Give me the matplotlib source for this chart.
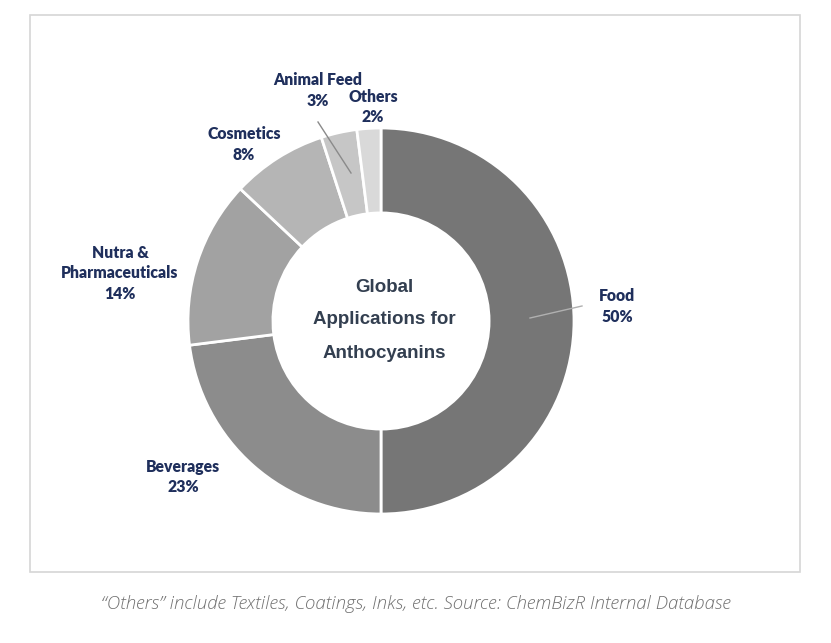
import matplotlib.pyplot as plt
from matplotlib.patches import Rectangle

# data
categories = ["Food", "Beverages", "Nutra &\nPharmaceuticals", "Cosmetics", "Animal Feed", "Others"]
shares = [50, 23, 14, 8, 3, 2]
colors = ["#767676", "#8c8c8c", "#a2a2a2", "#b5b5b5", "#c6c6c6", "#d9d9d9"]
caption = "\u201cOthers\u201d include Textiles, Coatings, Inks, etc. Source: ChemBizR Internal Database"
center_title = ["Global", "Applications for", "Anthocyanins"]

W, H = 831, 643
fig = plt.figure(figsize=(W / 100, H / 100), dpi=100)
fig.patch.set_facecolor("white")

# overlay axes in pixel coords for the frame, labels and caption
bg = fig.add_axes([0, 0, 1, 1])
bg.set_xlim(0, W)
bg.set_ylim(H, 0)
bg.axis("off")
bg.add_patch(Rectangle((30, 15), 770, 557, fill=False, edgecolor="#d6d6d6", lw=1.2))

# donut
cx, cy, r = 381, 321, 193
ax = fig.add_axes([(cx - r) / W, (H - cy - r) / H, 2 * r / W, 2 * r / H])
ax.pie(shares, colors=colors, startangle=90, counterclock=False, radius=1,
       wedgeprops=dict(width=0.44, edgecolor="white", linewidth=2))
ax.set_xlim(-1, 1)
ax.set_ylim(-1, 1)
ax.set_aspect("equal")
ax.axis("off")
ax.set_zorder(1)
bg.set_zorder(2)
bg.patch.set_alpha(0)

# labels, one text per line (top line y given)
label_pos = [(617, 296), (183, 467), (120, 253), (244, 134), (318, 80), (373, 97)]
navy = "#1f2f5c"
step = 20.5
for name, val, (x, y) in zip(categories, shares, label_pos):
    lines = name.split("\n") + [f"{val}%"]
    for i, line in enumerate(lines):
        bg.text(x, y + i * step, line, ha="center", va="center", fontsize=11.3,
                fontfamily="Lato", fontweight="heavy", color=navy)

# leader lines
bg.plot([530, 582], [318, 306], color="#b0b0b0", lw=1)
bg.plot([318, 351], [122, 173], color="#8a8a8a", lw=1)

for i, line in enumerate(center_title):
    bg.text(384, 287 + i * 33, line, ha="center", va="center", fontsize=13.5,
            fontfamily="Liberation Sans", fontweight="bold", color="#333f50")

bg.text(416, 604, caption, ha="center", va="center", fontsize=13.4,
        fontfamily="Open Sans", fontstyle="italic", fontweight="light",
        color="#707070")

fig.savefig("out.png", dpi=100, facecolor="white")
